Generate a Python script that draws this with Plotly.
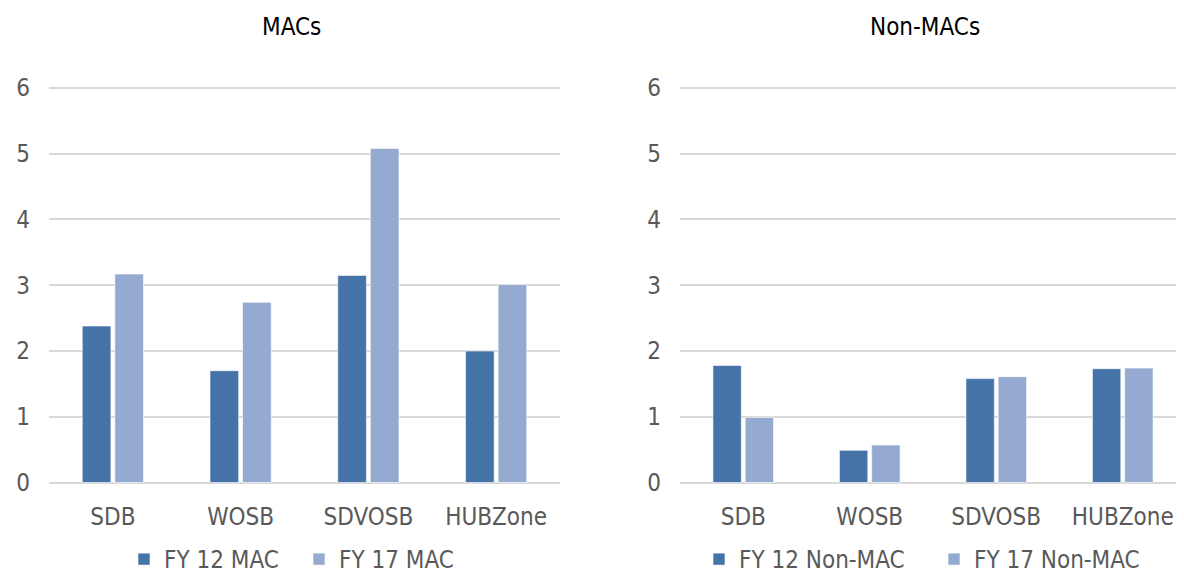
import plotly.graph_objects as go

categories = ["SDB", "WOSB", "SDVOSB", "HUBZone"]
mac_fy12 = [2.38, 1.70, 3.15, 2.00]
mac_fy17 = [3.17, 2.74, 5.08, 3.01]
nonmac_fy12 = [1.78, 0.49, 1.58, 1.73]
nonmac_fy17 = [0.99, 0.57, 1.61, 1.74]
y_ticks = [0, 1, 2, 3, 4, 5, 6]

DARK = "#4572A7"
LIGHT = "#95AAD0"
FONT = "DejaVu Sans Condensed, DejaVu Sans, sans-serif"
TICK_COLOR = "#595959"
GRID = "#D9D9D9"

# page has an 8px body margin; size figure to fit the viewport exactly
OFF = 8
W, H = 1184 - 2 * OFF, 583 - 2 * OFF


def px(rx):
    return (rx - OFF) / W


def py(ry):
    return 1 - (ry - OFF) / H


edge = dict(color="rgba(255,255,255,0.6)", width=1)

fig = go.Figure()
fig.add_trace(go.Bar(x=categories, y=mac_fy12, name="FY 12 MAC", marker=dict(color=DARK, line=edge),
                     xaxis="x", yaxis="y", legend="legend"))
fig.add_trace(go.Bar(x=categories, y=mac_fy17, name="FY 17 MAC", marker=dict(color=LIGHT, line=edge),
                     xaxis="x", yaxis="y", legend="legend"))
fig.add_trace(go.Bar(x=categories, y=nonmac_fy12, name="FY 12 Non-MAC", marker=dict(color=DARK, line=edge),
                     xaxis="x2", yaxis="y2", legend="legend2"))
fig.add_trace(go.Bar(x=categories, y=nonmac_fy17, name="FY 17 Non-MAC", marker=dict(color=LIGHT, line=edge),
                     xaxis="x2", yaxis="y2", legend="legend2"))

# y=0 at 482.5, y=6 at 88 -> 65.75 px/unit
unit = 65.75
y0 = 482.5
ylo, yhi = -0.05, 6.1
ydom = [py(y0 - ylo * unit), py(y0 - yhi * unit)]

yax = dict(range=[ylo, yhi], tickvals=y_ticks, showgrid=True, gridcolor=GRID, gridwidth=2,
           zeroline=True, zerolinecolor=GRID, zerolinewidth=2, showline=False, ticks="",
           tickfont=dict(family=FONT, size=24, color=TICK_COLOR), ticklabelstandoff=18,
           domain=ydom, fixedrange=True)
xax = dict(showgrid=False, zeroline=False, showline=False, ticks="",
           tickfont=dict(family=FONT, size=24, color=TICK_COLOR), ticklabelstandoff=14)

# right panel: starts at 680, category pitch ~126.5 px, runs to the right edge
r_start = 680
r_pitch = 126.5
r_end = OFF + W
r_range_hi = -0.5 + (r_end - r_start) / r_pitch

fig.update_layout(
    width=W, height=H,
    margin=dict(l=0, r=0, t=0, b=0, autoexpand=False),
    paper_bgcolor="white", plot_bgcolor="white",
    barmode="group", bargap=0.49, bargroupgap=0.12,
    font=dict(family=FONT, size=24, color=TICK_COLOR),
    xaxis=dict(xax, domain=[px(49), px(560)], range=[-0.5, 3.5], anchor="y"),
    yaxis=dict(yax, anchor="x"),
    xaxis2=dict(xax, domain=[px(r_start), 1.0], range=[-0.5, r_range_hi], anchor="y2"),
    yaxis2=dict(yax, anchor="x2"),
    legend=dict(orientation="h", x=px(124), xanchor="left", y=py(537), yanchor="top",
                font=dict(family=FONT, size=24, color=TICK_COLOR), bgcolor="rgba(0,0,0,0)",
                entrywidth=130, entrywidthmode="pixels"),
    legend2=dict(orientation="h", x=px(699), xanchor="left", y=py(537), yanchor="top",
                 font=dict(family=FONT, size=24, color=TICK_COLOR), bgcolor="rgba(0,0,0,0)",
                 entrywidth=190, entrywidthmode="pixels"),
    annotations=[
        dict(text="MACs", x=px(291), y=py(27), xref="paper", yref="paper", showarrow=False,
             xanchor="center", yanchor="middle", font=dict(family=FONT, size=24, color="#000000")),
        dict(text="Non-MACs", x=px(925), y=py(27), xref="paper", yref="paper", showarrow=False,
             xanchor="center", yanchor="middle", font=dict(family=FONT, size=24, color="#000000")),
    ],
)

fig.write_html("out.html")
